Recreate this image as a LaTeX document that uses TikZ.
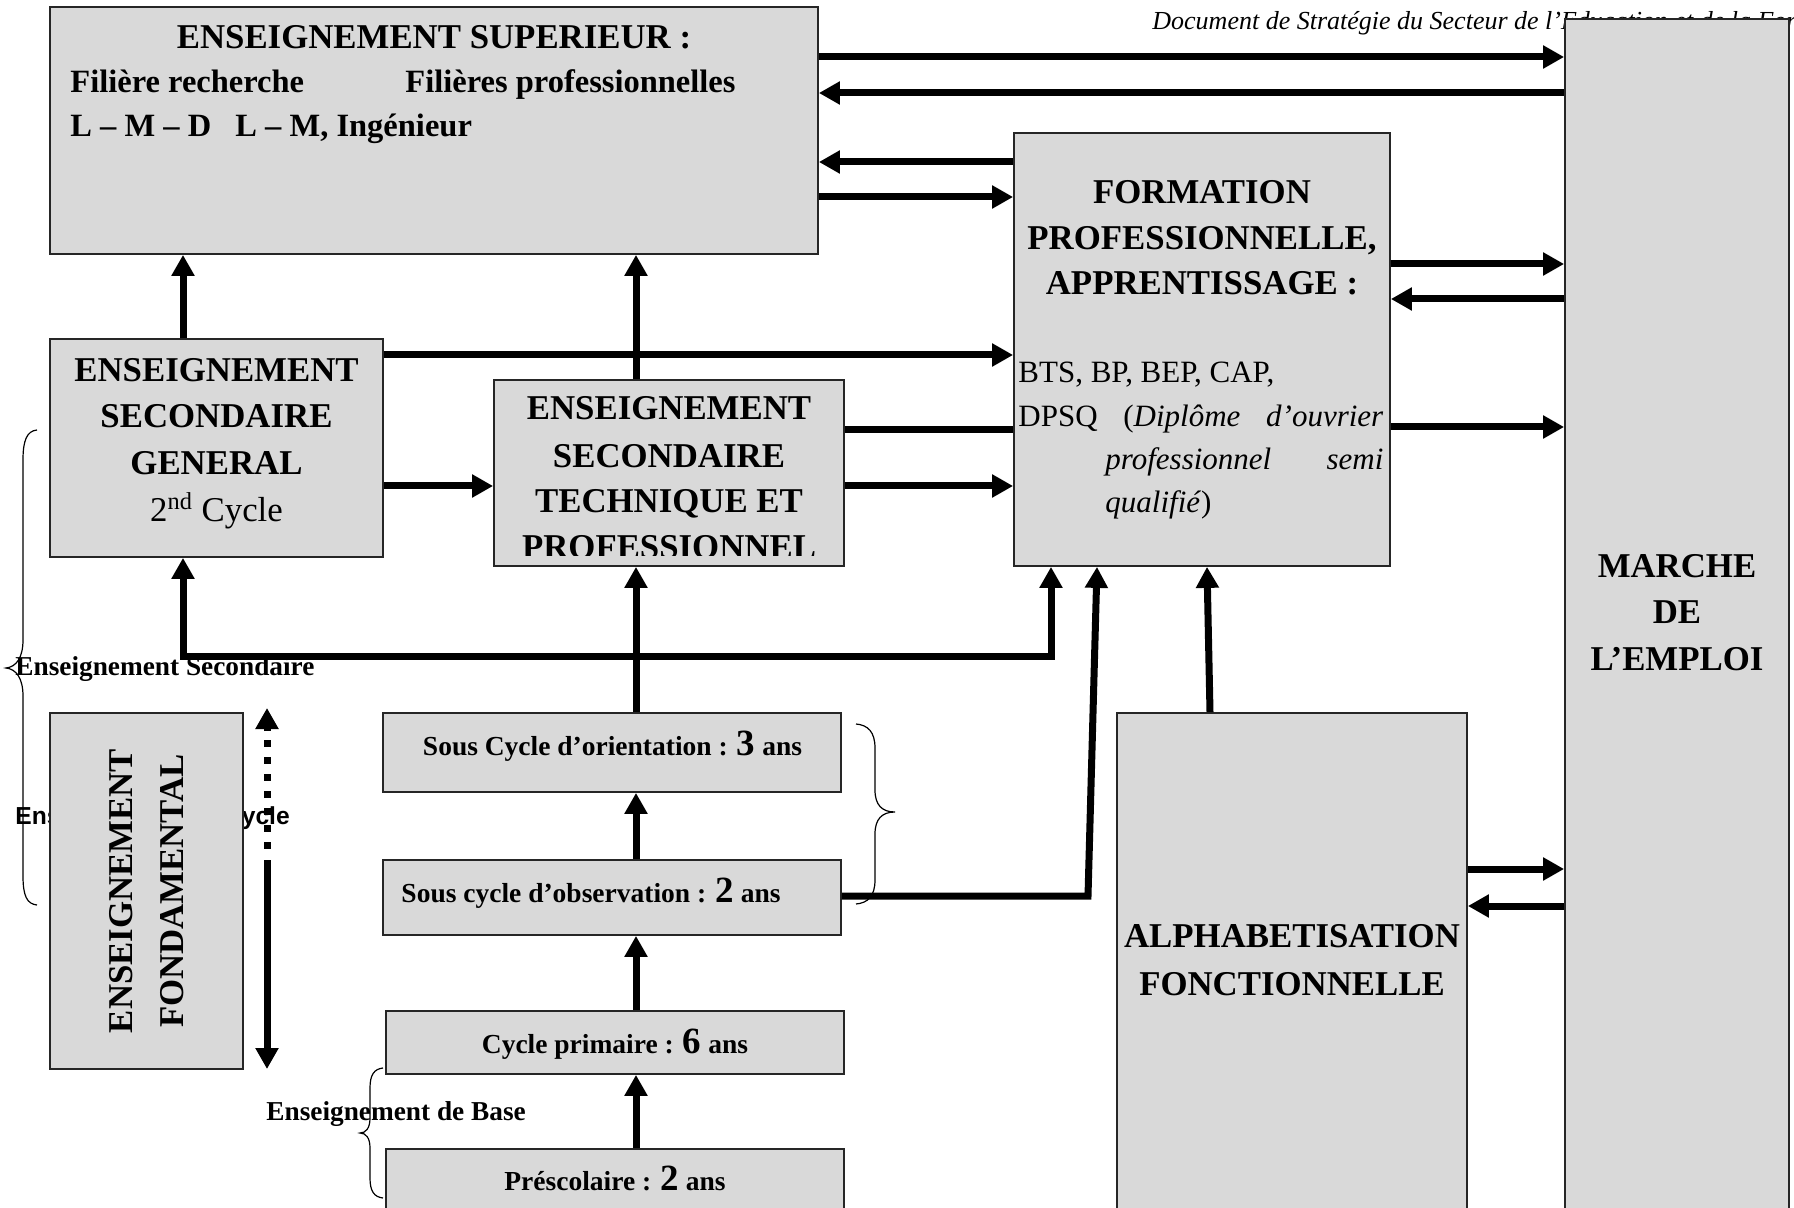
\documentclass[tikz,border=0pt]{standalone}
\usepackage{fontspec}
\setmainfont{Liberation Serif}
\newfontfamily\sansfam{Liberation Sans}
\usetikzlibrary{arrows.meta,fit}
\definecolor{boxgray}{RGB}{217,217,217}
\newcommand\szBig{\fontsize{17.4}{20}\selectfont\bfseries}
\newcommand\szBigN{\fontsize{17.4}{20}\selectfont}
\newcommand\szSub{\fontsize{16.25}{20}\selectfont\bfseries}
\newcommand\szNorm{\fontsize{15.5}{20}\selectfont}
\newcommand\szSm{\fontsize{13.75}{16}\selectfont\bfseries}
\newcommand\szDig{\fontsize{18.5}{20}\selectfont}
\newcommand\szLab{\fontsize{13.65}{16}\selectfont\bfseries}
\newcommand\szHdr{\fontsize{13}{16}\selectfont\itshape}
\begin{document}
\begin{tikzpicture}[x=0.5pt,y=-0.5pt,
  box/.style={draw=black!85, fill=boxgray, line width=0.9pt, inner sep=0pt, rectangle},
  lbl/.style={inner sep=0pt, anchor=base},
  conn/.style={line width=3.5pt, draw=black},
  arr/.style={conn, -{Triangle[width=11pt,length=10.5pt]}},
  arrboth/.style={conn, {Triangle[width=11pt,length=10.5pt]}-{Triangle[width=11pt,length=10.5pt]}},
  bracel/.style={draw=black, line width=0.6pt}]
\useasboundingbox (0,0) rectangle (1794,1208);
\clip (0,0) rectangle (1794,1208);

% texts lying behind boxes
\node[lbl, anchor=base west] (hdr) at (1152,30) {\szHdr Document de Stratégie du Secteur de l’Education et de la Formation};
\node[lbl, anchor=base west] (cyc1) at (15,824) {\sansfam\bfseries\fontsize{12.3}{14}\selectfont Enseignement 1\textsuperscript{er} cycle};

% boxes
\node[box, fit={(50,7) (818,254)}] (sup) {};
\node[box, fit={(1014,133) (1390,566)}] (form) {};
\node[box, fit={(50,339) (383,557)}] (esg) {};
\node[box, fit={(494,380) (844,566)}] (est) {};
\node[box, fit={(1565,19) (1789,1240)}] (marche) {};
\node[box, fit={(1117,713) (1467,1240)}] (alpha) {};
\node[box, fit={(50,713) (243,1069)}] (fond) {};
\node[box, fit={(383,713) (841,792)}] (orient) {};
\node[box, fit={(383,860) (841,935)}] (obs) {};
\node[box, fit={(386,1011) (844,1074)}] (prim) {};
\node[box, fit={(386,1149) (844,1240)}] (presc) {};

% superieur
\node[lbl] (supt) at (434,49) {\szBig ENSEIGNEMENT SUPERIEUR :};
\node[lbl, anchor=base west] (supa) at (70,93) {\szSub Filière recherche};
\node[lbl, anchor=base west] (supb) at (405,93) {\szSub Filières professionnelles};
\node[lbl, anchor=base west] (supc) at (70,137) {\szSub L – M – D};
\node[lbl, anchor=base west] (supd) at (235,137) {\szSub L – M, Ingénieur};

% secondaire general
\node[lbl] (esg1) at (216.5,382) {\szBig ENSEIGNEMENT};
\node[lbl] (esg2) at (216.5,428) {\szBig SECONDAIRE};
\node[lbl] (esg3) at (216.5,475) {\szBig GENERAL};
\node[lbl] (esg4) at (216.5,522) {\szBigN 2\textsuperscript{nd} Cycle};

% secondaire technique (clipped)
\begin{scope}
\clip (494,380) rectangle (844,555);
\node[lbl] (est1) at (669,420) {\szBig ENSEIGNEMENT};
\node[lbl] (est2) at (669,467) {\szBig SECONDAIRE};
\node[lbl] (est3) at (669,513) {\szBig TECHNIQUE ET};
\node[lbl] (est4) at (669,559) {\szBig PROFESSIONNEL};
\end{scope}

% formation
\node[lbl] (fo1) at (1202,204) {\szBig FORMATION};
\node[lbl] (fo2) at (1202,250) {\szBig PROFESSIONNELLE,};
\node[lbl] (fo3) at (1202,295) {\szBig APPRENTISSAGE :};
\node[lbl, anchor=base west] (fo4) at (1018,383) {\szNorm BTS, BP, BEP, CAP,};
\node[lbl, anchor=base west] (fo5) at (1018,427) {\szNorm\makebox[182.5pt][s]{DPSQ (\textit{Diplôme d’ouvrier}}};
\node[lbl, anchor=base west] (fo6) at (1105,470) {\szNorm\makebox[139pt][s]{\textit{professionnel semi}}};
\node[lbl, anchor=base west] (fo7) at (1105,513) {\szNorm\textit{qualifié})};

% marche
\node[lbl] (ma1) at (1677,577) {\szBig MARCHE};
\node[lbl] (ma2) at (1677,623) {\szBig DE};
\node[lbl] (ma3) at (1677,670) {\szBig L’EMPLOI};

% alpha
\node[lbl] (al1) at (1292,947) {\szBig ALPHABETISATION};
\node[lbl] (al2) at (1292,995) {\szBig FONCTIONNELLE};

% fondamental
\node[lbl, rotate=90] (fd1) at (132,891) {\szBig ENSEIGNEMENT};
\node[lbl, rotate=90] (fd2) at (183,891) {\szBig FONDAMENTAL};

% small boxes
\node[lbl] (or1) at (612.5,755) {\szSm Sous Cycle d’orientation : {\szDig 3} ans};
\node[lbl] (ob1) at (591,902) {\szSm Sous cycle d’observation : {\szDig 2} ans};
\node[lbl] (pr1) at (615,1053) {\szSm Cycle primaire : {\szDig 6} ans};
\node[lbl] (ps1) at (615,1190) {\szSm Préscolaire : {\szDig 2} ans};

% connectors
\draw[arr] (sup.east |- 0,57) -- (marche.west |- 0,57);
\draw[arr] (marche.west |- 0,93) -- (sup.east |- 0,93);
\draw[arr] (form.west |- 0,162) -- (sup.east |- 0,162);
\draw[arr] (sup.east |- 0,197) -- (form.west |- 0,197);
\draw[arr] (form.east |- 0,264) -- (marche.west |- 0,264);
\draw[arr] (marche.west |- 0,299) -- (form.east |- 0,299);
\draw[arr] (form.east |- 0,427) -- (marche.west |- 0,427);
\draw[arr] (esg.north -| 183,0) -- (sup.south -| 183,0);
\draw[arr] (est.north -| 636,0) -- (sup.south -| 636,0);
\draw[arr] (esg.east |- 0,355) -- (form.west |- 0,355);
\draw[arr] (esg.east |- 0,486) -- (est.west |- 0,486);
\draw[conn] (est.east |- 0,430) -- (form.west |- 0,430);
\draw[arr] (est.east |- 0,486) -- (form.west |- 0,486);
\draw[arrboth] (form.south -| 1051,0) -- (1051,656) -- (183,656) -- (esg.south -| 183,0);
\draw[arr] (orient.north -| 636,0) -- (est.south -| 636,0);
\draw[arr] (obs.north -| 636,0) -- (orient.south -| 636,0);
\draw[arr] (prim.north -| 636,0) -- (obs.south -| 636,0);
\draw[arr] (presc.north -| 636,0) -- (prim.south -| 636,0);
\draw[arr] (obs.east |- 0,896) -- (1088,896) -- (form.south -| 1097,0);
\draw[arr] (alpha.north -| 1210,0) -- (form.south -| 1207,0);
\draw[arr] (alpha.east |- 0,869) -- (marche.west |- 0,869);
\draw[arr] (marche.west |- 0,906) -- (alpha.east |- 0,906);

% dotted / solid double arrow
\coordinate (dtop) at (267,708);
\coordinate (dbot) at (267,1069);
\draw[conn, dash pattern=on 3.5pt off 5pt] (267,740) -- (267,856);
\draw[arr] (267,731) -- (dtop);
\draw[arr] (267,860) -- (dbot);

% braces
\draw[bracel] (37,430) .. controls (27,431) and (23,440) .. (23,460) -- (23,640) .. controls (23,658) and (16,667) .. (6,668) .. controls (16,669) and (23,678) .. (23,696) -- (23,876) .. controls (23,896) and (27,904) .. (37,905);
\draw[bracel] (856,724) .. controls (868,725) and (875,732) .. (875,748) -- (875,790) .. controls (875,805) and (882,812) .. (895,812) .. controls (882,812) and (875,819) .. (875,834) -- (875,880) .. controls (875,896) and (868,903) .. (856,904);
\draw[bracel] (383,1068) .. controls (374,1069) and (370,1075) .. (370,1088) -- (370,1118) .. controls (370,1128) and (366,1133) .. (360,1133) .. controls (366,1133) and (370,1138) .. (370,1148) -- (370,1178) .. controls (370,1191) and (374,1197) .. (383,1198);

% labels
\node[lbl, anchor=base west] (labsec) at (15,675) {\szLab Enseignement Secondaire};
\node[lbl, anchor=base west] (labbase) at (266,1120) {\szLab Enseignement de Base};
\end{tikzpicture}
\end{document}
